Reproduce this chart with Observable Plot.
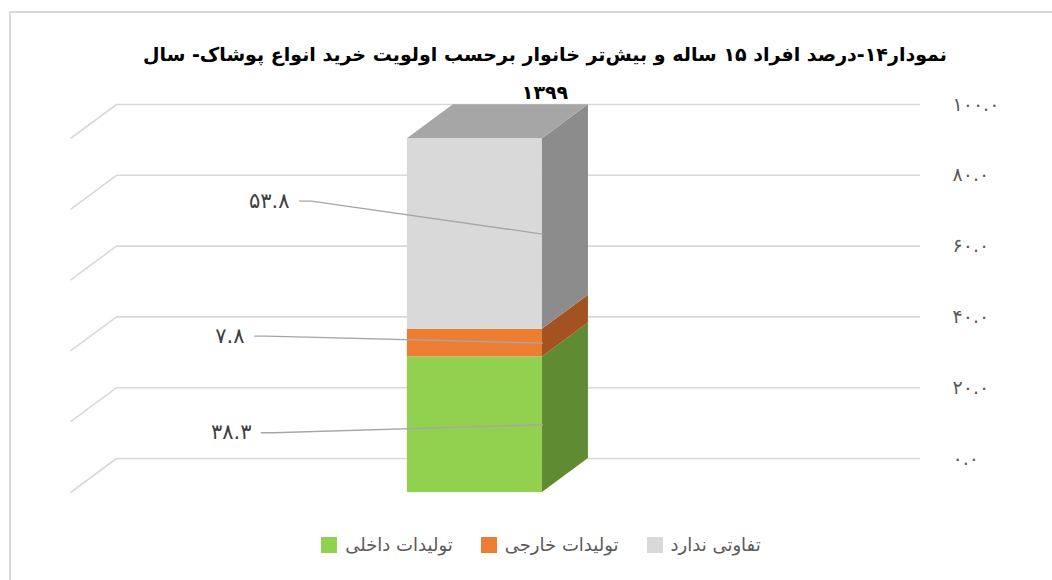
<!DOCTYPE html>
<html><head><meta charset="utf-8">
<script src="https://cdn.jsdelivr.net/npm/d3@7"></script>
<script src="https://cdn.jsdelivr.net/npm/@observablehq/plot@0.6"></script>
<style>
html,body{margin:0;padding:0;background:#fff;overflow:hidden;}
#wrap{position:relative;width:1052px;height:580px;overflow:hidden;}
#frame{position:absolute;left:9px;top:11px;width:1200px;height:700px;border-left:2px solid #d9d9d9;border-top:2px solid #d9d9d9;pointer-events:none;}
#title{position:relative;z-index:2;height:100px;box-sizing:border-box;padding-top:35px;padding-left:38px;
  font-family:"DejaVu Sans",sans-serif;font-weight:bold;font-size:19px;line-height:38px;text-align:center;color:#000;direction:rtl;}
#chart{position:relative;z-index:1;height:420px;}
#legend{position:relative;height:50px;box-sizing:border-box;padding-left:30px;display:flex;justify-content:center;align-items:center;
  font-family:"DejaVu Sans",sans-serif;font-size:18px;color:#595959;direction:ltr;}
.item{display:flex;align-items:center;margin:0 14px;}
.sw{display:inline-block;width:16px;height:16px;margin-right:8px;}
.lbl{direction:rtl;line-height:22px;}
</style></head>
<body><div id="wrap">
<div id="frame"></div>
<div id="title"></div>
<div id="chart"></div>
<div id="legend"></div>
</div>
<script>
// ---- data ----
const titleText = "نمودار۱۴-درصد افراد ۱۵ ساله و بیش‌تر خانوار برحسب اولویت خرید انواع پوشاک- سال";
const titleYear = "۱۳۹۹";
const categories = ["تولیدات داخلی", "تولیدات خارجی", "تفاوتی ندارد"];
const values = [38.3, 7.8, 53.8];
const frontColors = ["#92d050", "#ed7d31", "#d9d9d9"];
const sideColors = ["#5f8b33", "#a4521f", "#8c8c8c"];
const topColor = "#a6a6a6";
const yTicks = [0, 20, 40, 60, 80, 100];
const legendOrder = [0, 1, 2];

// ---- style / layout ----
const W = 1052, H = 420;
const M = {left: 116, right: 132, top: 4, bottom: 62};
const frameW = W - M.left - M.right, frameH = H - M.top - M.bottom;
const DEPTH = {x: 46, y: 34};           // 3-D depth in px
const BAR = {center: 0.503, width: 0.168}; // bar as share of wall width
const labelNudge = [[-281, 8], [-288, -7], [-243, -33]]; // px from leader end to label start
const KINK = 12, LABEL_GAP = 10;

const ux = px => px / frameW;            // px -> x units
const uy = px => px * 100 / frameH;      // px -> y units
const dxU = ux(DEPTH.x), dyU = uy(DEPTH.y);
const fa = s => String(s).replace(/\d/g, d => "۰۱۲۳۴۵۶۷۸۹"[d]);

document.getElementById("title").innerHTML = titleText + "<br>" + titleYear;

const cum = d3.cumsum(values);
const rows = categories.map((c, i) => ({
  c, v: values[i], y0: cum[i] - values[i], y1: cum[i],
  front: frontColors[i], side: sideColors[i]
}));
const xl = BAR.center - BAR.width / 2, xr = BAR.center + BAR.width / 2;
const total = cum[cum.length - 1];

const sideRows = rows.flatMap(r => [
  {c: r.c, side: r.side, x: xr - dxU, lo: r.y0 - dyU, hi: r.y1 - dyU},
  {c: r.c, side: r.side, x: xr, lo: r.y0, hi: r.y1}
]);
const topRows = [
  {x: xl - dxU, lo: total - dyU, hi: total - dyU},
  {x: xl, lo: total - dyU, hi: total},
  {x: xr - dxU, lo: total - dyU, hi: total},
  {x: xr, lo: total, hi: total}
];
const leaders = rows.flatMap((r, i) => {
  const ex = xr - dxU, ey = (r.y0 + r.y1) / 2 - dyU;
  const sx = ex + ux(labelNudge[i][0]), sy = ey - uy(labelNudge[i][1]);
  return [
    {c: r.c, x: sx, y: sy},
    {c: r.c, x: sx + ux(KINK), y: sy},
    {c: r.c, x: ex, y: ey}
  ];
});
const labels = rows.map((r, i) => {
  const ex = xr - dxU, ey = (r.y0 + r.y1) / 2 - dyU;
  return {x: ex + ux(labelNudge[i][0] - LABEL_GAP), y: ey - uy(labelNudge[i][1]), t: fa(r.v.toFixed(1))};
});

const chart = Plot.plot({
  width: W, height: H,
  marginLeft: M.left, marginRight: M.right, marginTop: M.top, marginBottom: M.bottom,
  style: {fontFamily: "DejaVu Sans, sans-serif", background: "transparent", overflow: "visible"},
  x: {domain: [0, 1], axis: null},
  y: {domain: [0, 100], axis: null},
  marks: [
    Plot.ruleY(yTicks, {stroke: "#d9d9d9", strokeWidth: 1.6}),
    Plot.link(yTicks, {x1: 0, y1: d => d, x2: -dxU, y2: d => d - dyU, stroke: "#d9d9d9", strokeWidth: 1.6}),
    Plot.axisY(yTicks, {anchor: "right", tickSize: 0, tickPadding: 32, textAnchor: "start",
      tickFormat: d => fa(d.toFixed(1)), fontSize: 19, fill: "#595959", label: null}),
    Plot.rect(rows, {x1: xl - dxU, x2: xr - dxU, y1: d => d.y0 - dyU, y2: d => d.y1 - dyU, fill: "front"}),
    Plot.area(sideRows, {x1: "x", y1: "lo", y2: "hi", z: "c", fill: "side", curve: "linear"}),
    Plot.area(topRows, {x1: "x", y1: "lo", y2: "hi", fill: topColor, curve: "linear"}),
    Plot.line(leaders, {x: "x", y: "y", z: "c", stroke: "#a6a6a6", strokeWidth: 1.4, curve: "linear"}),
    Plot.text(labels, {x: "x", y: "y", text: "t", textAnchor: "end", fontSize: 21, fill: "#404040"})
  ]
});
document.getElementById("chart").appendChild(chart);

const legend = document.getElementById("legend");
legendOrder.forEach(i => {
  const it = document.createElement("div");
  it.className = "item";
  it.innerHTML = `<span class="sw" style="background:${frontColors[i]}"></span><span class="lbl">${categories[i]}</span>`;
  legend.appendChild(it);
});
</script>
</body></html>
